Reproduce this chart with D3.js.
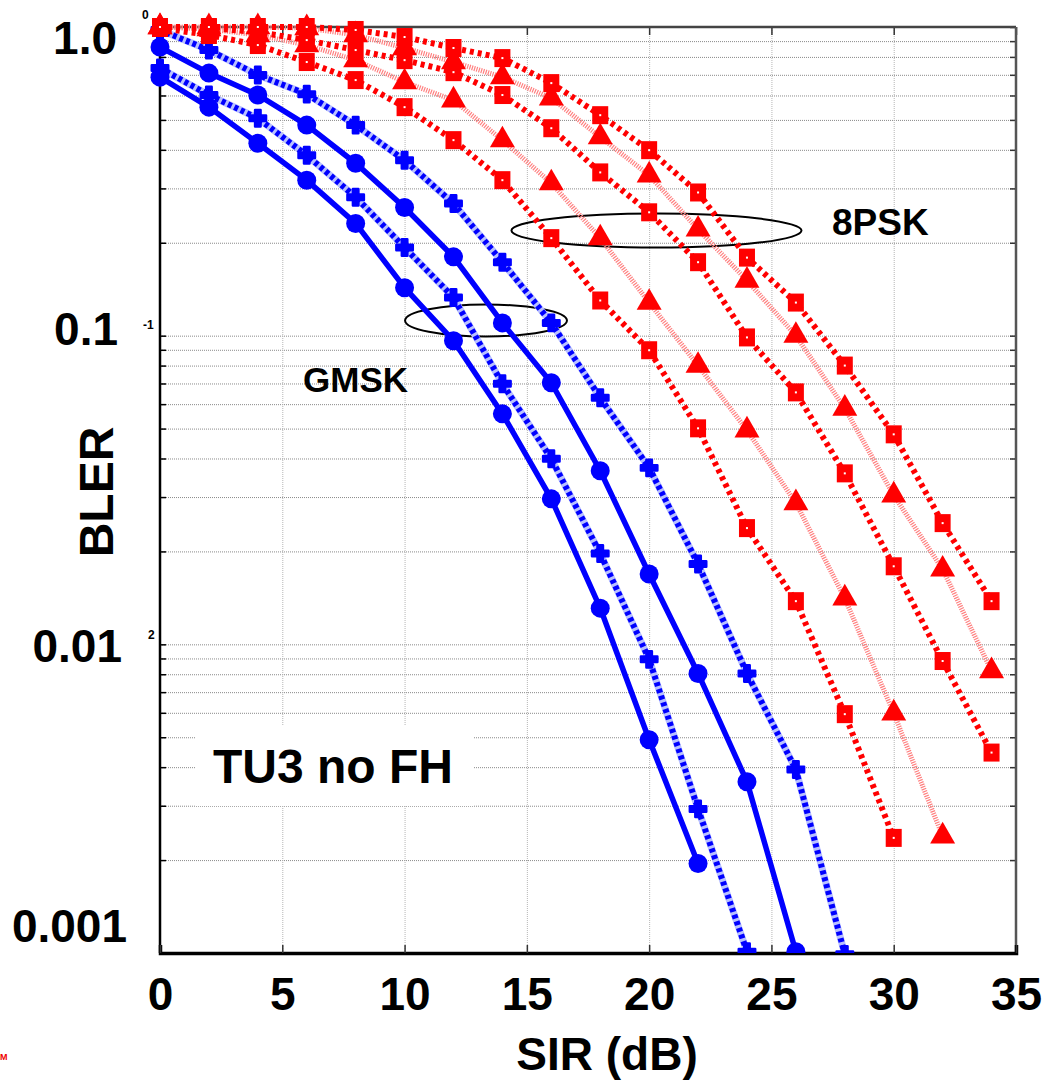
<!DOCTYPE html>
<html>
<head>
<meta charset="utf-8">
<script src="https://cdn.jsdelivr.net/npm/d3@7"></script>
<style>
  body { margin: 0; background: #fff; }
  #chart { width: 1047px; height: 1080px; }
  text { font-family: "Liberation Sans", Arial, sans-serif; font-weight: bold; }
</style>
</head>
<body>
<div id="chart"></div>
<script>

// SIR values (dB) where every curve was simulated
const sirPoints = [0, 2, 4, 6, 8, 10, 12, 14, 16, 18, 20, 22, 24, 26, 28, 30, 32, 34];

// GMSK curves (blue)
const gmskSolidHigh = [0.861, 0.709, 0.602, 0.481, 0.362, 0.260, 0.180, 0.110, 0.0704, 0.0365, 0.0169, 0.00805, 0.00359, 0.00101];
const gmskSolidLow = [0.688, 0.550, 0.420, 0.319, 0.231, 0.143, 0.0963, 0.0558, 0.0296, 0.0131, 0.00491, 0.00195];
const gmskDottedHigh = [0.978, 0.842, 0.699, 0.606, 0.481, 0.370, 0.268, 0.173, 0.110, 0.0629, 0.0373, 0.0182, 0.00805, 0.00393, 0.00099];
const gmskDottedLow = [0.736, 0.602, 0.506, 0.384, 0.281, 0.193, 0.133, 0.0699, 0.0399, 0.0197, 0.00894, 0.00293, 0.00101];

// 8PSK curves (red)
const pskSquare1 = [1.0, 1.0, 1.0, 1.0, 0.978, 0.928, 0.855, 0.793, 0.658, 0.518, 0.399, 0.291, 0.179, 0.128, 0.0800, 0.0479, 0.0247, 0.0138];
const pskTriangle1 = [1.0, 1.0, 1.0, 0.9925, 0.942, 0.855, 0.770, 0.688, 0.588, 0.440, 0.331, 0.221, 0.151, 0.100, 0.0581, 0.0304, 0.0175, 0.00820];
const pskSquare2 = [1.0, 0.9925, 0.963, 0.907, 0.842, 0.781, 0.714, 0.602, 0.470, 0.338, 0.251, 0.173, 0.0987, 0.0655, 0.0358, 0.0179, 0.00883, 0.00446];
const pskTriangle2 = [1.0, 0.985, 0.942, 0.874, 0.781, 0.663, 0.579, 0.430, 0.312, 0.207, 0.128, 0.0800, 0.0494, 0.0287, 0.0141, 0.00598, 0.00239];
const pskSquare3 = [0.9925, 0.942, 0.874, 0.770, 0.673, 0.550, 0.430, 0.319, 0.207, 0.130, 0.0897, 0.0501, 0.0238, 0.0138, 0.00594, 0.00236];

// ticks
const xTicks = [0, 5, 10, 15, 20, 25, 30, 35];
const yLabels = [1, 0.1, 0.01, 0.001];
const yLabelText = ["1.0", "0.1", "0.01", "0.001"];
const yExponents = ["0", "-1", "2"];

// ellipse annotations, in data units
const pskRing = { sir: 20.3, bler: 0.219, halfWidth: 5.93 };
const gmskRing = { sir: 13.33, bler: 0.112, halfWidth: 3.31 };

/* SVG */
const width = 1047;
const height = 1080;
const svg = d3.select("#chart")
    .append("svg")
    .attr("width", width)
    .attr("height", height);

const plot = { left: 160, right: 1016, top: 27, bottom: 953 };

const x = d3.scaleLinear().domain([0, 35]).range([plot.left, plot.right]);
const y = d3.scaleLog().domain([0.001, 1]).range([plot.bottom, plot.top]);

// every 1..9 x 10^e value on the log axis
const minorTicks = [];
for (let e = -3; e < 0; e++) {
    for (let k = 1; k < 10; k++) minorTicks.push(+(k * Math.pow(10, e)).toPrecision(3));
}
minorTicks.push(1);

// GRID
const gridY = svg.append("g")
    .attr("transform", `translate(${plot.left},0)`)
    .call(d3.axisLeft(y).tickValues(minorTicks.filter(v => v > 0.001 && v < 1))
        .tickSize(-(plot.right - plot.left)).tickFormat(""));
gridY.select(".domain").remove();
gridY.selectAll("line").attr("stroke", "#8a8a8a").attr("stroke-dasharray", "1,1");

const gridX = svg.append("g")
    .attr("transform", `translate(0,${plot.bottom})`)
    .call(d3.axisBottom(x).tickValues(xTicks.slice(1, -1))
        .tickSize(-(plot.bottom - plot.top)).tickFormat(""));
gridX.select(".domain").remove();
gridX.selectAll("line").attr("stroke", "#b5b5b5").attr("stroke-dasharray", "1,1");

// white box behind the channel label
svg.append("rect")
    .attr("x", 195).attr("y", 725)
    .attr("width", 279).attr("height", 81)
    .attr("fill", "white");

// FRAME + TICKS
const tickLeft = svg.append("g").attr("transform", `translate(${plot.left},0)`)
    .call(d3.axisLeft(y).tickValues(minorTicks).tickSize(-6).tickFormat(""));
tickLeft.select(".domain").remove();
tickLeft.selectAll("line").attr("stroke", "#000").attr("stroke-width", 1.5);

const tickRight = svg.append("g").attr("transform", `translate(${plot.right},0)`)
    .call(d3.axisRight(y).tickValues(minorTicks).tickSize(-6).tickFormat(""));
tickRight.select(".domain").remove();
tickRight.selectAll("line").attr("stroke", "#333").attr("stroke-width", 1.5);

const tickTop = svg.append("g").attr("transform", `translate(0,${plot.top})`)
    .call(d3.axisTop(x).tickValues(xTicks).tickSize(-8).tickFormat(""));
tickTop.select(".domain").remove();
tickTop.selectAll("line").attr("stroke", "#333").attr("stroke-width", 1.5);

svg.append("line").attr("x1", plot.left).attr("x2", plot.right)
    .attr("y1", plot.top).attr("y2", plot.top)
    .attr("stroke", "#444").attr("stroke-width", 2.5);
svg.append("line").attr("x1", plot.right).attr("x2", plot.right)
    .attr("y1", plot.top).attr("y2", plot.bottom)
    .attr("stroke", "#555").attr("stroke-width", 2.5);
svg.append("line").attr("x1", plot.left).attr("x2", plot.left)
    .attr("y1", plot.top).attr("y2", plot.bottom)
    .attr("stroke", "#000").attr("stroke-width", 2.5);

const xAxis = svg.append("g").attr("transform", `translate(0,${plot.bottom})`)
    .call(d3.axisBottom(x).tickValues(xTicks).tickSize(-8).tickPadding(24));
xAxis.select(".domain").attr("stroke", "#000").attr("stroke-width", 3.5);
xAxis.selectAll("line").attr("stroke", "#333").attr("stroke-width", 1.5);
xAxis.selectAll("text")
    .attr("font-size", 46)
    .attr("fill", "#000")
    .style("font-family", "'Liberation Sans', Arial, sans-serif")
    .style("font-weight", "bold");

// ELLIPSES
[pskRing, gmskRing].forEach((r, i) => {
    svg.append("ellipse")
        .attr("cx", x(r.sir))
        .attr("cy", y(r.bler))
        .attr("rx", x(r.halfWidth) - x(0))
        .attr("ry", i === 0 ? 17 : 16)
        .attr("fill", "none")
        .attr("stroke", "#000")
        .attr("stroke-width", 2);
});

// SERIES
svg.append("clipPath").attr("id", "clip")
    .append("rect").attr("x", 0).attr("y", 0)
    .attr("width", width).attr("height", plot.bottom);

const series = [
    { values: gmskDottedHigh, kind: "blueDot" },
    { values: gmskDottedLow, kind: "blueDot" },
    { values: gmskSolidHigh, kind: "blueSolid" },
    { values: gmskSolidLow, kind: "blueSolid" },
    { values: pskTriangle2, kind: "redTri" },
    { values: pskTriangle1, kind: "redTri" },
    { values: pskSquare3, kind: "redSq" },
    { values: pskSquare2, kind: "redSq" },
    { values: pskSquare1, kind: "redSq" }
].map(s => ({ kind: s.kind, pts: s.values.map((v, i) => [sirPoints[i], v]) }));

const line = d3.line()
    .x(d => x(d[0]))
    .y(d => y(d[1]));

const layer = svg.append("g").attr("clip-path", "url(#clip)");

series.forEach(s => {
    const g = layer.append("g");
    if (s.kind === "blueSolid") {
        g.append("path").attr("d", line(s.pts))
            .attr("fill", "none").attr("stroke", "#0000ff").attr("stroke-width", 5.5);
        g.selectAll("circle").data(s.pts).join("circle")
            .attr("cx", d => x(d[0])).attr("cy", d => y(d[1]))
            .attr("r", 9.5).attr("fill", "#0000ff");
    } else if (s.kind === "blueDot") {
        g.append("path").attr("d", line(s.pts))
            .attr("fill", "none").attr("stroke", "#b8c0ff").attr("stroke-width", 7);
        g.append("path").attr("d", line(s.pts))
            .attr("fill", "none").attr("stroke", "#0000ff").attr("stroke-width", 6)
            .attr("stroke-dasharray", "4,3");
        g.selectAll(".m").data(s.pts).join("path")
            .attr("transform", d => `translate(${x(d[0])},${y(d[1])})`)
            .attr("d", d3.symbol().type(d3.symbolCross).size(150))
            .attr("fill", "#0000ff")
            .attr("stroke", "#0000ff")
            .attr("stroke-width", 2.5)
            .attr("stroke-linejoin", "round");
    } else if (s.kind === "redTri") {
        g.append("path").attr("d", line(s.pts))
            .attr("fill", "none").attr("stroke", "#ff8080").attr("stroke-width", 5)
            .attr("stroke-dasharray", "1.2,1.2");
        g.selectAll(".m").data(s.pts).join("path")
            .attr("transform", d => `translate(${x(d[0])},${y(d[1])})`)
            .attr("d", d3.symbol().type(d3.symbolTriangle).size(270))
            .attr("fill", "#ff0000");
    } else {
        g.append("path").attr("d", line(s.pts))
            .attr("fill", "none").attr("stroke", "#ff0000").attr("stroke-width", 6)
            .attr("stroke-dasharray", "4,4");
        g.selectAll(".m").data(s.pts).join("rect")
            .attr("x", d => x(d[0]) - 8).attr("y", d => y(d[1]) - 9)
            .attr("width", 16).attr("height", 18)
            .attr("fill", "#ff0000");
        g.selectAll(".dot").data(s.pts).join("rect")
            .attr("x", d => x(d[0]) - 1).attr("y", d => y(d[1]) - 1)
            .attr("width", 2).attr("height", 2)
            .attr("fill", "#fff");
    }
});

// TEXT
const yLabelNudge = [10, -7, 1, -28];
const yLabelShift = [-4, -3, 1, 6];
svg.append("g").selectAll("text")
    .data(yLabels)
    .join("text")
    .attr("x", (d, i) => 121 + yLabelShift[i])
    .attr("y", (d, i) => y(d) + yLabelNudge[i])
    .attr("dy", "0.36em")
    .attr("text-anchor", "end")
    .attr("font-size", 46)
    .text((d, i) => yLabelText[i]);

// leftover exponent marks of the original axis
svg.append("g").selectAll("text")
    .data(yExponents)
    .join("text")
    .attr("x", (d, i) => [142, 143, 148][i])
    .attr("y", (d, i) => y(yLabels[i]) - [8, 7, 5][i])
    .attr("font-size", 12)
    .text(d => d);

svg.append("text")
    .attr("transform", "translate(113,492) rotate(-90)")
    .attr("text-anchor", "middle")
    .attr("font-size", 48)
    .text("BLER");

svg.append("text")
    .attr("x", 607).attr("y", 1070)
    .attr("text-anchor", "middle")
    .attr("font-size", 46)
    .text("SIR (dB)");

svg.append("text")
    .attr("x", 213).attr("y", 783)
    .attr("font-size", 48)
    .text("TU3 no FH");

svg.append("text")
    .attr("x", 303).attr("y", 392)
    .attr("font-size", 35)
    .text("GMSK");

svg.append("text")
    .attr("x", 832).attr("y", 235)
    .attr("font-size", 37)
    .text("8PSK");

svg.append("text")
    .attr("x", 0).attr("y", 1060)
    .attr("font-size", 9)
    .attr("fill", "#e00")
    .text("M");

</script>
</body>
</html>
